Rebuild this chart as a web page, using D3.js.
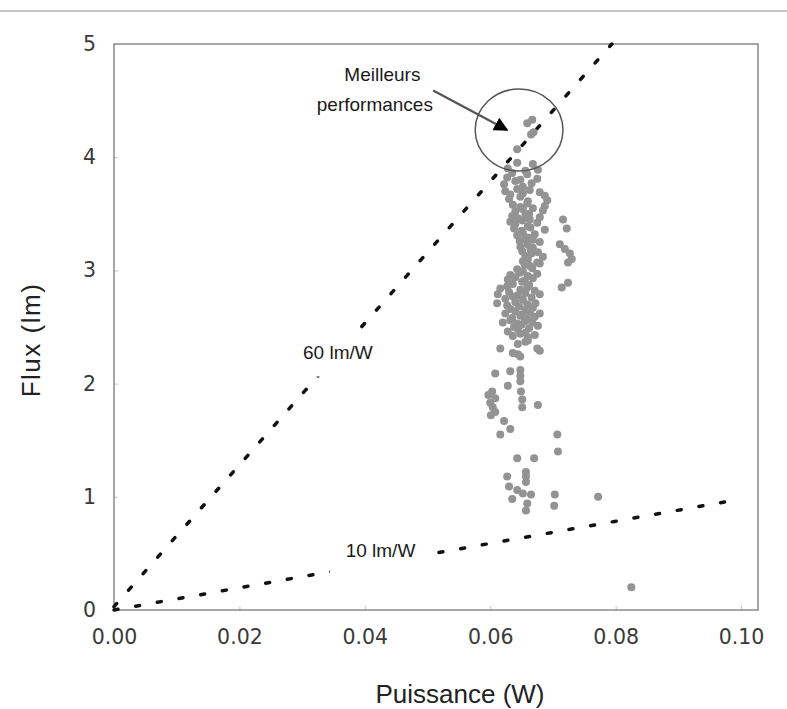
<!DOCTYPE html>
<html>
<head>
<meta charset="utf-8">
<script src="https://cdn.jsdelivr.net/npm/d3@7"></script>
<style>
  body { margin: 0; background: #fff; }
  svg { display: block; }
  .tick text { font-family: "DejaVu Sans", Verdana, sans-serif; font-size: 20.5px; fill: #3a3a3a; }
  .tick line { stroke: #c4c4c4; }
  .titre { font-family: "Liberation Sans", Arial, sans-serif; font-size: 26px; fill: #222; }
  .note { font-family: "Liberation Sans", Arial, sans-serif; font-size: 19px; fill: #1a1a1a; }
</style>
</head>
<body>
<div id="chart"></div>
<script>
// ticks
const xTicks = [0, 0.02, 0.04, 0.06, 0.08, 0.10];
const yTicks = [0, 1, 2, 3, 4, 5];

// efficacy reference lines (puissance W, flux lm)
const ligne60 = [[0.0, 0.03], [0.0794, 5.0]];
const ligne10 = [[0.0, 0.0], [0.1, 0.98]];

// measured LEDs: [puissance (W), flux (lm)]
const mesures = [
  [0.0659, 4.30], [0.0667, 4.33], [0.0665, 4.20], [0.0669, 4.22], [0.0643, 4.07],
  [0.0628, 3.90], [0.0643, 3.95], [0.0656, 3.88], [0.0668, 3.94], [0.0676, 3.89],
  [0.0627, 3.82], [0.0635, 3.86], [0.0648, 3.80], [0.0659, 3.85], [0.0675, 3.81],
  [0.0622, 3.76], [0.0640, 3.79], [0.0652, 3.74], [0.0666, 3.77],
  [0.0624, 3.70], [0.0632, 3.67], [0.0643, 3.72], [0.0652, 3.68], [0.0663, 3.71], [0.0679, 3.69],
  [0.0630, 3.63], [0.0648, 3.65], [0.0660, 3.61], [0.0687, 3.66], [0.0691, 3.62],
  [0.0636, 3.58], [0.0648, 3.56], [0.0659, 3.59], [0.0668, 3.55], [0.0687, 3.57],
  [0.0640, 3.52], [0.0652, 3.54], [0.0662, 3.50], [0.0684, 3.53],
  [0.0635, 3.48], [0.0644, 3.46], [0.0656, 3.49], [0.0663, 3.45], [0.0679, 3.47],
  [0.0632, 3.43], [0.0640, 3.41], [0.0651, 3.44], [0.0660, 3.39], [0.0675, 3.42], [0.0716, 3.45],
  [0.0638, 3.37], [0.0650, 3.35], [0.0664, 3.38], [0.0687, 3.36], [0.0722, 3.37],
  [0.0643, 3.31], [0.0652, 3.33], [0.0660, 3.29], [0.0671, 3.32],
  [0.0647, 3.26], [0.0656, 3.28], [0.0679, 3.25], [0.0668, 3.27],
  [0.0648, 3.21], [0.0659, 3.23], [0.0668, 3.20], [0.0711, 3.23],
  [0.0651, 3.17], [0.0664, 3.19], [0.0676, 3.16], [0.0719, 3.19],
  [0.0656, 3.13], [0.0666, 3.15], [0.0684, 3.12], [0.0727, 3.15],
  [0.0652, 3.08], [0.0660, 3.10], [0.0675, 3.07], [0.0730, 3.10],
  [0.0663, 3.04], [0.0679, 3.06], [0.0724, 3.07], [0.0655, 3.05],
  [0.0643, 3.01], [0.0652, 2.99], [0.0667, 3.02],
  [0.0632, 2.96], [0.0647, 2.98], [0.0660, 2.95], [0.0675, 2.97],
  [0.0628, 2.92], [0.0640, 2.94], [0.0655, 2.91], [0.0668, 2.93],
  [0.0636, 2.88], [0.0651, 2.90], [0.0662, 2.87], [0.0724, 2.89],
  [0.0616, 2.84], [0.0627, 2.86], [0.0648, 2.83], [0.0659, 2.85], [0.0671, 2.82], [0.0714, 2.85],
  [0.0612, 2.79], [0.0630, 2.81], [0.0644, 2.78], [0.0656, 2.80], [0.0679, 2.79],
  [0.0624, 2.75], [0.0636, 2.77], [0.0652, 2.74], [0.0666, 2.76],
  [0.0611, 2.71], [0.0627, 2.69], [0.0640, 2.72], [0.0659, 2.70], [0.0672, 2.71],
  [0.0632, 2.66], [0.0646, 2.68], [0.0656, 2.65], [0.0668, 2.67],
  [0.0624, 2.62], [0.0640, 2.64], [0.0651, 2.61], [0.0663, 2.63], [0.0679, 2.62],
  [0.0635, 2.58], [0.0648, 2.60], [0.0659, 2.57], [0.0671, 2.59],
  [0.0620, 2.54], [0.0632, 2.56], [0.0643, 2.53], [0.0655, 2.55], [0.0667, 2.54],
  [0.0638, 2.50], [0.0650, 2.52], [0.0662, 2.49], [0.0676, 2.51],
  [0.0628, 2.46], [0.0644, 2.48], [0.0656, 2.45],
  [0.0636, 2.42], [0.0648, 2.44], [0.0660, 2.41], [0.0671, 2.43],
  [0.0660, 2.38], [0.0644, 2.35], [0.0656, 2.37],
  [0.0616, 2.31], [0.0675, 2.31], [0.0679, 2.29],
  [0.0636, 2.27], [0.0644, 2.26], [0.0648, 2.24],
  [0.0632, 2.11], [0.0648, 2.12], [0.0608, 2.09], [0.0648, 2.07],
  [0.0648, 2.02], [0.0628, 1.98], [0.0603, 1.93], [0.0649, 1.93],
  [0.0597, 1.90], [0.0608, 1.87], [0.0651, 1.86], [0.0600, 1.83],
  [0.0676, 1.81], [0.0604, 1.79], [0.0651, 1.79], [0.0608, 1.75], [0.0601, 1.72],
  [0.0622, 1.67], [0.0632, 1.60], [0.0616, 1.55], [0.0707, 1.55],
  [0.0708, 1.40], [0.0643, 1.34], [0.0670, 1.34],
  [0.0657, 1.22], [0.0627, 1.18], [0.0657, 1.18], [0.0657, 1.13],
  [0.0630, 1.09], [0.0643, 1.06], [0.0652, 1.03], [0.0665, 1.02], [0.0703, 1.02],
  [0.0772, 1.00], [0.0635, 0.98], [0.0659, 0.94], [0.0702, 0.92], [0.0657, 0.88],
  [0.0825, 0.20]
];

const width = 787, height = 709;

const svg = d3.select("#chart").append("svg")
  .attr("width", width)
  .attr("height", height);

// page separator at the top
svg.append("line")
  .attr("x1", 0).attr("x2", width)
  .attr("y1", 11).attr("y2", 11)
  .attr("stroke", "#c6c6c6")
  .attr("stroke-width", 2);

const x = d3.scaleLinear().domain([0, 0.1027]).range([114, 758]);
const y = d3.scaleLinear().domain([0, 5]).range([610, 44]);

// axes
svg.append("g")
  .attr("transform", "translate(0," + y(0) + ")")
  .call(d3.axisBottom(x).tickValues(xTicks).tickFormat(d3.format(".2f"))
    .tickSizeInner(-4).tickSizeOuter(0).tickPadding(19))
  .call(g => g.select(".domain").remove());

svg.append("g")
  .attr("transform", "translate(" + x(0) + ",0)")
  .call(d3.axisLeft(y).tickValues(yTicks).tickFormat(d3.format("d"))
    .tickSizeInner(-4).tickSizeOuter(0).tickPadding(18))
  .call(g => g.select(".domain").remove());

// plot frame
svg.append("rect")
  .attr("x", x(0)).attr("y", y(5))
  .attr("width", x.range()[1] - x(0))
  .attr("height", y(0) - y(5))
  .attr("fill", "none")
  .attr("stroke", "#8a8a8a")
  .attr("stroke-width", 1.5);

// axis titles
svg.append("text")
  .attr("class", "titre")
  .attr("x", 460).attr("y", 703)
  .attr("text-anchor", "middle")
  .text("Puissance (W)");

svg.append("text")
  .attr("class", "titre")
  .attr("transform", "translate(40,340) rotate(-90)")
  .attr("text-anchor", "middle")
  .style("letter-spacing", "1.5px")
  .text("Flux (lm)");

// efficacy lines
const line = d3.line().x(d => x(d[0])).y(d => y(d[1]));
[ligne60, ligne10].forEach(l => {
  svg.append("path")
    .attr("d", line(l))
    .attr("fill", "none")
    .attr("stroke", "#111")
    .attr("stroke-width", 3.5)
    .attr("stroke-linecap", "round")
    .attr("stroke-dasharray", "4 18");
});

// points
svg.append("g")
  .selectAll("circle")
  .data(mesures)
  .enter().append("circle")
  .attr("cx", d => x(d[0]))
  .attr("cy", d => y(d[1]))
  .attr("r", 4)
  .attr("fill", "#939393");

// line labels, on a white box that hides the dashes behind
function etiquette(px, py, txt, padX) {
  const t = svg.append("text").attr("class", "note")
    .attr("x", x(px)).attr("y", y(py)).attr("dy", "0.35em")
    .attr("text-anchor", "middle").text(txt);
  const b = t.node().getBBox();
  svg.insert("rect", () => t.node())
    .attr("x", b.x - padX).attr("y", b.y - 4)
    .attr("width", b.width + 2 * padX).attr("height", b.height + 18)
    .attr("fill", "#fff");
}
etiquette(0.0357, 2.28, "60 lm/W", 6);
etiquette(0.0425, 0.53, "10 lm/W", 16);

// best-performance annotation
svg.append("ellipse")
  .attr("cx", x(0.0646)).attr("cy", y(4.24))
  .attr("rx", x(0.0070) - x(0)).attr("ry", y(0) - y(0.362))
  .attr("fill", "none")
  .attr("stroke", "#555")
  .attr("stroke-width", 1.5);

svg.append("defs").append("marker")
  .attr("id", "fleche")
  .attr("viewBox", "0 0 10 10")
  .attr("refX", 9).attr("refY", 5)
  .attr("markerWidth", 6.5).attr("markerHeight", 6.5)
  .attr("markerUnits", "strokeWidth")
  .attr("orient", "auto")
  .append("path")
  .attr("d", "M0,0L10,5L0,10z")
  .attr("fill", "#000");

svg.append("line")
  .attr("x1", x(0.0509)).attr("y1", y(4.59))
  .attr("x2", x(0.0627)).attr("y2", y(4.24))
  .attr("stroke", "#555")
  .attr("stroke-width", 2.2)
  .attr("marker-end", "url(#fleche)");

svg.append("text").attr("class", "note")
  .attr("x", x(0.0428)).attr("y", y(4.73)).attr("dy", "0.35em")
  .attr("text-anchor", "middle").text("Meilleurs");
svg.append("text").attr("class", "note")
  .attr("x", x(0.0416)).attr("y", y(4.47)).attr("dy", "0.35em")
  .attr("text-anchor", "middle").text("performances");
</script>
</body>
</html>
